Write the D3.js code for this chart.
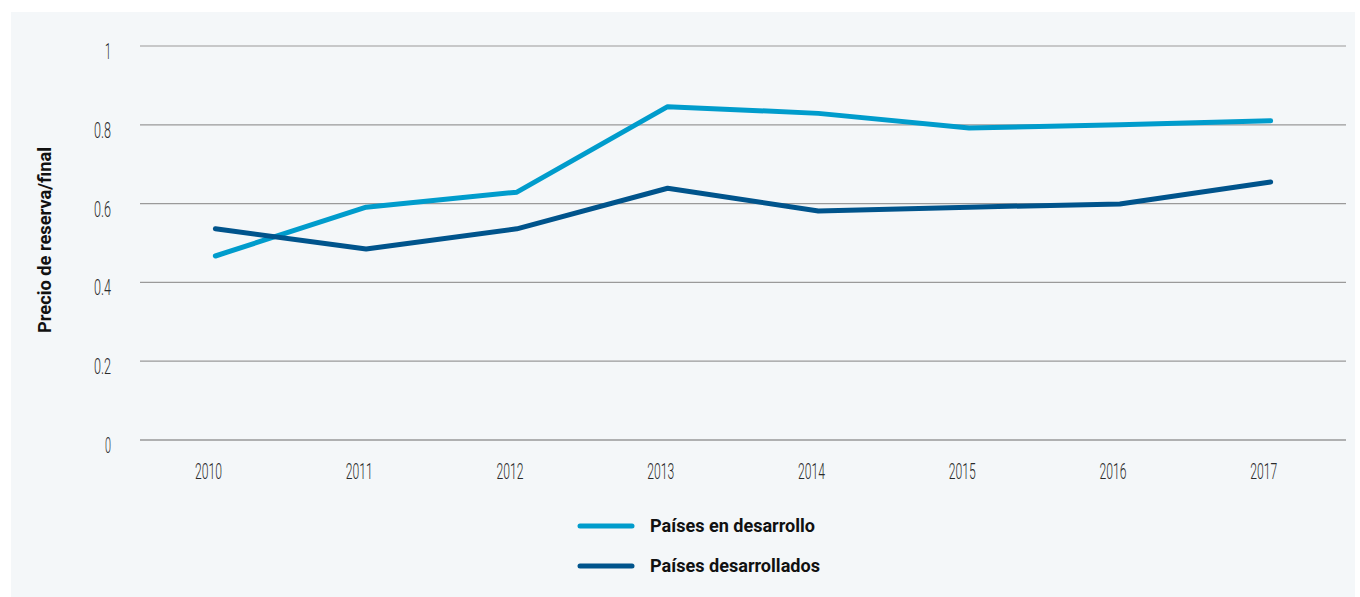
<!DOCTYPE html>
<html>
<head>
<meta charset="utf-8">
<script src="https://cdn.jsdelivr.net/npm/d3@7"></script>
<style>
body{margin:0;background:#fff;}
</style>
</head>
<body>
<div id="chart"></div>
<script>
// datos
var anios = ["2010","2011","2012","2013","2014","2015","2016","2017"];
var enDesarrollo = [0.467, 0.591, 0.629, 0.846, 0.829, 0.792, 0.800, 0.810];
var desarrollados = [0.536, 0.485, 0.536, 0.639, 0.581, 0.591, 0.599, 0.655];
var ticksY = [0, 0.2, 0.4, 0.6, 0.8, 1];
var nombres = ["Países en desarrollo", "Países desarrollados"];
var colores = ["#009ccc", "#00548c"];

var larghezza = 1360, altezza = 597;

var svg = d3.select("#chart").append("svg")
  .attr("width", larghezza)
  .attr("height", altezza);

// fondo
svg.append("rect")
  .attr("x", 11).attr("y", 12)
  .attr("width", 1344).attr("height", 585)
  .attr("fill", "#f4f7f9");

var x = d3.scaleBand().domain(anios).range([140, 1346]);
var y = d3.scaleLinear().domain([0, 1]).range([440, 46]);

// griglia
svg.selectAll("line.grid")
  .data(ticksY)
  .enter().append("line")
  .attr("class", "grid")
  .attr("x1", 140).attr("x2", 1346)
  .attr("y1", function(d){ return y(d); })
  .attr("y2", function(d){ return y(d); })
  .attr("stroke", function(d){ return d === 0 ? "#6b6b6b" : "#9a9a9a"; })
  .attr("stroke-width", 1.2);

// etichette asse y
svg.selectAll("text.ytick")
  .data(ticksY)
  .enter().append("text")
  .attr("class", "ytick")
  .attr("x", 111)
  .attr("y", function(d){ return y(d) + 13; })
  .attr("text-anchor", "end")
  .attr("font-family", "Roboto")
  .attr("font-weight", 300)
  .attr("font-size", 22)
  .attr("fill", "#2a2a2a")
  .attr("textLength", function(d){ return d === 0 || d === 1 ? 6 : 17; })
  .attr("lengthAdjust", "spacingAndGlyphs")
  .text(function(d){ return d; });

// etichette asse x
svg.selectAll("text.xtick")
  .data(anios)
  .enter().append("text")
  .attr("class", "xtick")
  .attr("x", function(d){ return x(d) + x.bandwidth()/2 - 7; })
  .attr("y", 479)
  .attr("text-anchor", "middle")
  .attr("font-family", "Roboto")
  .attr("font-weight", 300)
  .attr("font-size", 22)
  .attr("fill", "#2a2a2a")
  .attr("textLength", 27)
  .attr("lengthAdjust", "spacingAndGlyphs")
  .text(function(d){ return d; });

// titolo asse y
svg.append("text")
  .attr("transform", "translate(51,240) rotate(-90)")
  .attr("text-anchor", "middle")
  .attr("font-family", "Roboto")
  .attr("font-weight", "bold")
  .attr("font-size", 18)
  .attr("fill", "#111")
  .attr("textLength", 186)
  .attr("lengthAdjust", "spacingAndGlyphs")
  .text("Precio de reserva/final");

var linea = d3.line()
  .x(function(d, i){ return x(anios[i]) + x.bandwidth()/2; })
  .y(function(d){ return y(d); });

var serie = [enDesarrollo, desarrollados];

svg.selectAll("path.serie")
  .data(serie)
  .enter().append("path")
  .attr("class", "serie")
  .attr("d", linea)
  .attr("fill", "none")
  .attr("stroke", function(d, i){ return colores[i]; })
  .attr("stroke-width", 5)
  .attr("stroke-linecap", "round")
  .attr("stroke-linejoin", "round");

// legenda
var leg = svg.selectAll("g.leg")
  .data(nombres)
  .enter().append("g")
  .attr("class", "leg")
  .attr("transform", function(d, i){ return "translate(580," + (526 + i*40) + ")"; });

leg.append("line")
  .attr("x1", 0).attr("x2", 52)
  .attr("stroke", function(d, i){ return colores[i]; })
  .attr("stroke-width", 5)
  .attr("stroke-linecap", "round");

leg.append("text")
  .attr("x", 70)
  .attr("y", 6)
  .attr("font-family", "Roboto")
  .attr("font-weight", "bold")
  .attr("font-size", 18)
  .attr("fill", "#111")
  .attr("textLength", function(d, i){ return i === 0 ? 165 : 170; })
  .attr("lengthAdjust", "spacingAndGlyphs")
  .text(function(d){ return d; });
</script>
</body>
</html>
